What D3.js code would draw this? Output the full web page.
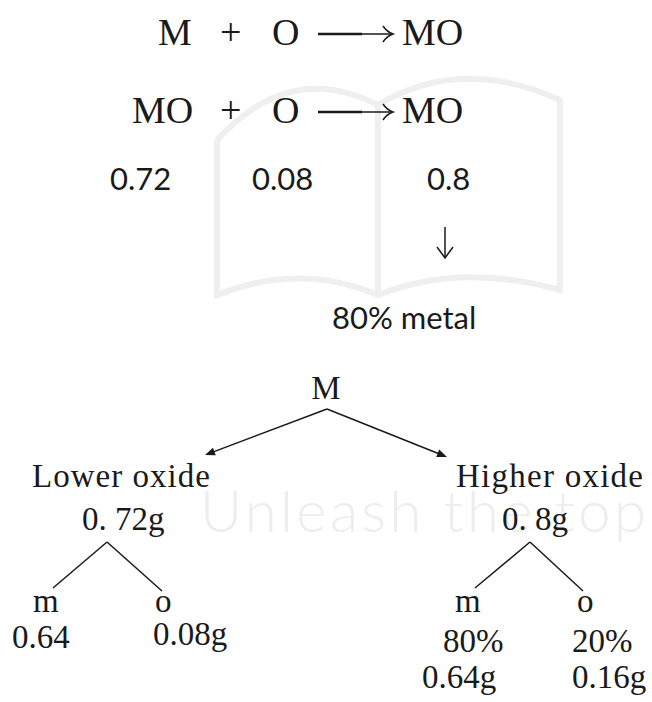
<!DOCTYPE html>
<html>
<head>
<meta charset="utf-8">
<script src="https://d3js.org/d3.v7.min.js"></script>
<style>
  body { margin: 0; background: #fff; }
  svg { display: block; }
</style>
</head>
<body>
<div id="chart"></div>
<script>
// equation rows: left term, "+", right term, product
var reactants = ["M", "MO"];
var oxygen = ["O", "O"];
var products = ["MO", "MO"];
// masses under the second equation
var masses = ["0.72", "0.08", "0.8"];
var metalNote = "80% metal";
// tree
var rootLabel = "M";
var oxides = ["Lower oxide", "Higher oxide"];
var oxideMass = ["0. 72g", "0. 8g"];
var partNames = ["m", "o"];
var lowerParts = ["0.64", "0.08g"];
var higherPct = ["80%", "20%"];
var higherParts = ["0.64g", "0.16g"];

var W = 652, H = 702;
var svg = d3.select("#chart").append("svg").attr("width", W).attr("height", H);

var serif = "'Liberation Serif', 'Times New Roman', serif";
var hand = "Lato, 'Open Sans', sans-serif";

// faint watermark
var wm = svg.append("g").attr("fill", "none").attr("stroke", "#efefef").attr("stroke-width", 6);
wm.append("path").attr("d", "M217,140 L217,295 Q300,262 378,295 Q460,262 560,290 L560,150 M217,140 Q290,60 378,105 M378,105 L378,295 M378,105 Q460,55 560,100 L560,150");
svg.append("text").attr("x", 200).attr("y", 532).attr("font-family", hand).attr("font-weight", 300)
  .attr("font-size", 58).attr("fill", "#ededed").attr("textLength", 446).text("Unleash the top");

// equations
var rowY = [45, 123];
var rowStart = [158, 132];
var eq = svg.append("g").attr("font-family", serif).attr("font-size", 38).attr("fill", "#1a1a1a");
eq.selectAll("text.re").data(reactants).join("text").attr("class", "re")
  .attr("x", function(d, i) { return rowStart[i]; }).attr("y", function(d, i) { return rowY[i]; }).text(function(d) { return d; });
eq.selectAll("text.pl").data(oxygen).join("text").attr("class", "pl")
  .attr("x", 220).attr("y", function(d, i) { return rowY[i]; }).text("+");
eq.selectAll("text.ox").data(oxygen).join("text").attr("class", "ox")
  .attr("x", 272).attr("y", function(d, i) { return rowY[i]; }).text(function(d) { return d; });
eq.selectAll("text.pr").data(products).join("text").attr("class", "pr")
  .attr("x", 402).attr("y", function(d, i) { return rowY[i]; }).text(function(d) { return d; });

// long arrows
var arrows = svg.append("g").attr("stroke", "#1a1a1a").attr("fill", "none");
rowY.forEach(function(y) {
  var ay = y - 11;
  arrows.append("line").attr("x1", 318).attr("x2", 362).attr("y1", ay).attr("y2", ay).attr("stroke-width", 2.4);
  arrows.append("line").attr("x1", 360).attr("x2", 392).attr("y1", ay).attr("y2", ay).attr("stroke-width", 1.5);
  arrows.append("path").attr("stroke-width", 1.5)
    .attr("d", "M383," + (ay - 8) + " Q387," + (ay - 2) + " 393," + ay + " Q387," + (ay + 2) + " 383," + (ay + 8));
});

// masses row (handwritten style)
var massX = [110, 252, 427];
svg.append("g").attr("font-family", hand).attr("font-size", 31).attr("fill", "#1a1a1a")
  .selectAll("text").data(masses).join("text")
  .attr("x", function(d, i) { return massX[i]; }).attr("y", 190).text(function(d) { return d; });

// down arrow
arrows.append("line").attr("x1", 445).attr("x2", 445).attr("y1", 227).attr("y2", 258).attr("stroke-width", 1.5);
arrows.append("path").attr("stroke-width", 1.5).attr("d", "M437,247 L445,258 L453,247");

svg.append("text").attr("x", 332).attr("y", 329).attr("font-family", hand).attr("font-size", 31)
  .attr("fill", "#1a1a1a").text(metalNote);

// tree
var tree = svg.append("g").attr("font-family", serif).attr("font-size", 33).attr("fill", "#1a1a1a");
tree.append("text").attr("x", 326).attr("y", 399).attr("text-anchor", "middle").text(rootLabel);

var apex = [327, 409];
var tips = [[205, 455], [447, 457]];
var lines = svg.append("g").attr("stroke", "#1a1a1a").attr("stroke-width", 1.5).attr("fill", "none");
tips.forEach(function(t) {
  var dx = t[0] - apex[0], dy = t[1] - apex[1];
  var len = Math.sqrt(dx * dx + dy * dy), ux = dx / len, uy = dy / len;
  lines.append("line").attr("x1", apex[0]).attr("y1", apex[1]).attr("x2", t[0] - ux * 4).attr("y2", t[1] - uy * 4);
  var bx = t[0] - ux * 10, by = t[1] - uy * 10;
  svg.append("path").attr("fill", "#1a1a1a")
    .attr("d", "M" + t[0] + "," + t[1] + " L" + (bx - uy * 4) + "," + (by + ux * 4) + " L" + (bx + uy * 4) + "," + (by - ux * 4) + "Z");
});

var oxX = [32, 456], massTX = [82, 502];
tree.selectAll("text.oxd").data(oxides).join("text").attr("class", "oxd")
  .attr("x", function(d, i) { return oxX[i]; }).attr("y", 487).attr("textLength", function(d, i) { return i ? 187 : 178; })
  .text(function(d) { return d; });
tree.selectAll("text.oxm").data(oxideMass).join("text").attr("class", "oxm")
  .attr("x", function(d, i) { return massTX[i]; }).attr("y", 530).text(function(d) { return d; });

// inverted V branches
var vApex = [[107, 542], [530, 542]];
var vLegs = [[[53, 588], [162, 591]], [[475, 588], [583, 591]]];
vApex.forEach(function(a, i) {
  vLegs[i].forEach(function(e) {
    lines.append("line").attr("x1", a[0]).attr("y1", a[1]).attr("x2", e[0]).attr("y2", e[1]);
  });
});

var nameX = [[33, 155], [455, 577]];
nameX.forEach(function(xs) {
  tree.selectAll(null).data(partNames).join("text")
    .attr("x", function(d, i) { return xs[i]; }).attr("y", 612).text(function(d) { return d; });
});
var lowX = [12, 153];
tree.selectAll("text.lp").data(lowerParts).join("text").attr("class", "lp")
  .attr("x", function(d, i) { return lowX[i]; }).attr("y", function(d, i) { return i ? 645 : 648; }).text(function(d) { return d; });
var pctX = [443, 572];
tree.selectAll("text.hp").data(higherPct).join("text").attr("class", "hp")
  .attr("x", function(d, i) { return pctX[i]; }).attr("y", 652).text(function(d) { return d; });
var hX = [422, 572];
tree.selectAll("text.hm").data(higherParts).join("text").attr("class", "hm")
  .attr("x", function(d, i) { return hX[i]; }).attr("y", 688).text(function(d) { return d; });
</script>
</body>
</html>
